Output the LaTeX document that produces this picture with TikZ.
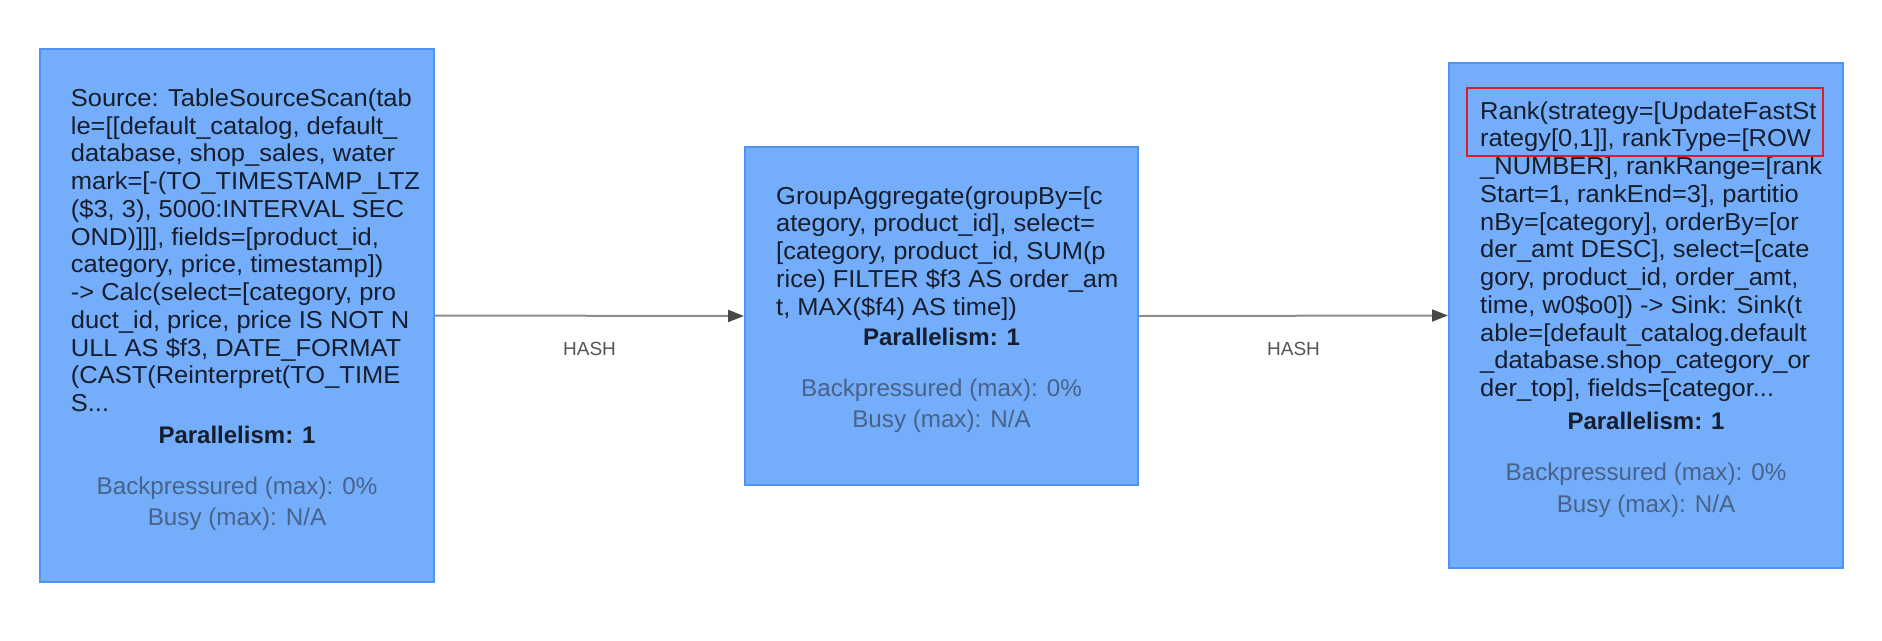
\documentclass[tikz,border=0pt]{standalone}
\usepackage{fontspec}
\setmainfont{Liberation Sans}
\newfontfamily\opfont[FakeStretch=1.04]{Liberation Sans}
\usetikzlibrary{arrows.meta}
\definecolor{boxfill}{RGB}{116,173,250}
\definecolor{boxline}{RGB}{77,148,245}
\definecolor{maintext}{RGB}{22,30,46}
\definecolor{stattext}{RGB}{72,98,138}
\definecolor{linegray}{RGB}{140,140,140}
\definecolor{tipgray}{RGB}{72,72,72}
\definecolor{lblgray}{RGB}{85,85,85}
\definecolor{hlred}{RGB}{225,25,40}
\tikzset{
  opbox/.style={draw=boxline, fill=boxfill, line width=2pt, inner sep=0pt},
  optext/.style={anchor=base west, align=left, inner sep=0pt, text=maintext,
    font=\opfont\fontsize{24.5}{27.75}\selectfont},
  partext/.style={anchor=base, inner sep=0pt, text=maintext,
    font=\fontsize{24}{26}\selectfont\bfseries},
  stat/.style={anchor=base, align=center, inner sep=0pt, text=stattext,
    font=\fontsize{24.2}{31.5}\selectfont},
  flow/.style={draw=linegray, line width=2pt,
    -{Triangle[length=16pt,width=12pt,color=tipgray]}},
  edgelbl/.style={text=lblgray, font=\fontsize{19}{22}\selectfont, inner sep=0pt},
  highlight/.style={draw=hlred, line width=2pt}
}
\begin{document}
\begin{tikzpicture}[x=1pt,y=-1pt]
\useasboundingbox (0,0) rectangle (1882,640);
% boxes
\node[opbox, minimum width=394pt, minimum height=533pt] (b1) at (237,315.5) {};
\node[opbox, minimum width=393pt, minimum height=338pt] (b2) at (941.5,316) {};
\node[opbox, minimum width=394pt, minimum height=505pt] (b3) at (1646,315.5) {};
% box 1 text (anchored at the baseline of its last line)
\node[optext] (t1) at (70.7,411.5) {Source: TableSourceScan(tab\\
le=[[default\_catalog, default\_\\
database, shop\_sales, water\\
mark=[-(TO\_TIMESTAMP\_LTZ\\
(\$3, 3), 5000:INTERVAL SEC\\
OND)]]], fields=[product\_id,\\
category, price, timestamp])\\
-> Calc(select=[category, pro\\
duct\_id, price, price IS NOT N\\
ULL AS \$f3, DATE\_FORMAT\\
(CAST(Reinterpret(TO\_TIME\\
S...};
\node[partext] (p1) at (237,443.4) {Parallelism: 1};
\node[stat] (s1) at (237,525.5) {Backpressured (max): 0\%\\Busy (max): N/A};
% box 2 text
\node[optext] (t2) at (776,315) {GroupAggregate(groupBy=[c\\
ategory, product\_id], select=\\
{[}category, product\_id, SUM(p\\
rice) FILTER \$f3 AS order\_am\\
t, MAX(\$f4) AS time])};
\node[partext] (p2) at (941.5,345.5) {Parallelism: 1};
\node[stat] (s2) at (941.5,427.5) {Backpressured (max): 0\%\\Busy (max): N/A};
% box 3 text
\node[optext] (t3) at (1480,396.5) {Rank(strategy=[UpdateFastSt\\
rategy[0,1]], rankType=[ROW\\
\_NUMBER], rankRange=[rank\\
Start=1, rankEnd=3], partitio\\
nBy=[category], orderBy=[or\\
der\_amt DESC], select=[cate\\
gory, product\_id, order\_amt,\\
time, w0\$o0]) -> Sink: Sink(t\\
able=[default\_catalog.default\\
\_database.shop\_category\_or\\
der\_top], fields=[categor...};
\node[partext] (p3) at (1646,429.4) {Parallelism: 1};
\node[stat] (s3) at (1646,512) {Backpressured (max): 0\%\\Busy (max): N/A};
% highlight
\draw[highlight] (1467,88) rectangle (1823,156);
% connectors
\draw[flow] (b1.east) -- node[edgelbl, midway, yshift=-33pt] (h1) {HASH} (b2.west);
\draw[flow] (b2.east) -- node[edgelbl, midway, yshift=-33pt] (h2) {HASH} (b3.west);
\end{tikzpicture}
\end{document}
